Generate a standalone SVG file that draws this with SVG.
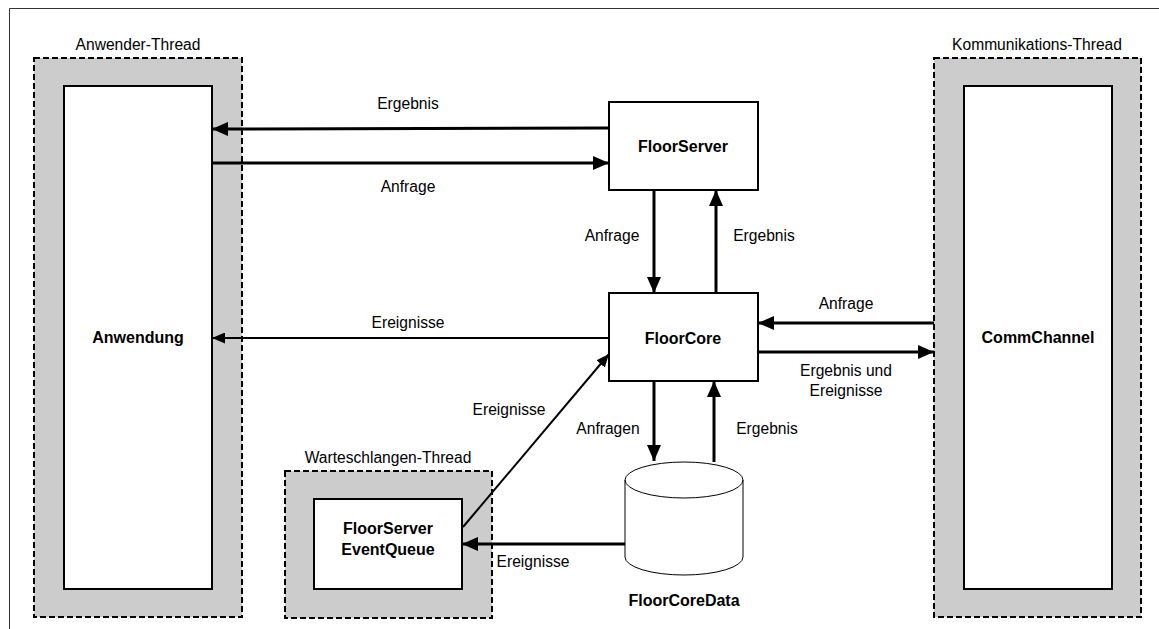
<svg xmlns="http://www.w3.org/2000/svg" width="1159" height="629" viewBox="0 0 1159 629">
  <style>
    .lbl { font-family: "Liberation Sans", Arial, sans-serif; font-size: 15.6px; fill: #000; text-anchor: middle; }
    .name { font-family: "Liberation Sans", Arial, sans-serif; font-size: 16px; font-weight: bold; fill: #000; text-anchor: middle; }
    .thread { fill: #cccccc; stroke: #000; stroke-width: 2; stroke-dasharray: 6 3; }
    .box { fill: #fff; stroke: #000; stroke-width: 2; }
    .thick { fill: none; stroke: #000; stroke-width: 3; marker-end: url(#headBig); }
    .thin { fill: none; stroke: #000; stroke-width: 2; marker-end: url(#headSmall); }
  </style>
  <defs>
    <marker id="headBig" markerUnits="userSpaceOnUse" markerWidth="16" markerHeight="14" refX="16" refY="7" orient="auto">
      <path d="M0,0 L16,7 L0,14 Z" fill="#000"/>
    </marker>
    <marker id="headSmall" markerUnits="userSpaceOnUse" markerWidth="13" markerHeight="11" refX="13" refY="5.5" orient="auto">
      <path d="M0,0 L13,5.5 L0,11 Z" fill="#000"/>
    </marker>
  </defs>

  <rect x="0" y="0" width="1159" height="629" fill="#fff"/>
  <!-- page frame -->
  <path d="M9.5,629 L9.5,8.5 L1159,8.5" fill="none" stroke="#333" stroke-width="1"/>

  <!-- thread containers -->
  <g id="anwender-thread">
    <rect class="thread" x="34" y="58" width="208" height="559"/>
    <text class="lbl" x="138" y="50">Anwender-Thread</text>
  </g>
  <g id="kommunikations-thread">
    <rect class="thread" x="934" y="58" width="207" height="559"/>
    <text class="lbl" x="1037" y="50">Kommunikations-Thread</text>
  </g>
  <g id="warteschlangen-thread">
    <rect class="thread" x="285" y="471" width="207" height="147"/>
    <text class="lbl" x="388" y="463">Warteschlangen-Thread</text>
  </g>

  <!-- nodes -->
  <g id="anwendung">
    <rect class="box" x="64" y="86" width="148" height="503"/>
    <text class="name" x="138" y="343">Anwendung</text>
  </g>
  <g id="commchannel">
    <rect class="box" x="964" y="86" width="148" height="503"/>
    <text class="name" x="1038" y="343">CommChannel</text>
  </g>
  <g id="floorserver">
    <rect class="box" x="609" y="102" width="149" height="88"/>
    <text class="name" x="683" y="152">FloorServer</text>
  </g>
  <g id="floorcore">
    <rect class="box" x="609" y="293" width="149" height="88"/>
    <text class="name" x="683" y="344">FloorCore</text>
  </g>
  <g id="eventqueue">
    <rect class="box" x="314" y="499" width="148" height="90"/>
    <text class="name" x="388" y="534">FloorServer</text>
    <text class="name" x="388" y="555">EventQueue</text>
  </g>
  <g id="floorcoredata">
    <path d="M625,480 L625,557 A59,18 0 0 0 743,557 L743,480 A59,18 0 0 0 625,480 Z" fill="#fff" stroke="#000" stroke-width="1"/>
    <path d="M625,480 A59,18 0 0 0 743,480" fill="none" stroke="#000" stroke-width="1"/>
    <text class="name" x="684" y="606">FloorCoreData</text>
  </g>

  <!-- connectors -->
  <g id="connectors">
    <path class="thick" d="M609,128 L212,129"/>
    <path class="thick" d="M212,163 L609,163"/>
    <path class="thick" d="M654,190 L654,293"/>
    <path class="thick" d="M716,293 L716,190"/>
    <path class="thin" d="M609,338 L212,338"/>
    <path class="thick" d="M934,323 L758,323"/>
    <path class="thick" d="M758,352 L934,352"/>
    <path class="thick" d="M654,381 L654,461"/>
    <path class="thick" d="M714,462 L714,381"/>
    <path class="thin" d="M463,527 L609,354"/>
    <path class="thick" d="M625,544 L462,544"/>
  </g>

  <!-- connector labels -->
  <g id="connector-labels">
    <text class="lbl" x="408" y="109">Ergebnis</text>
    <text class="lbl" x="408" y="192">Anfrage</text>
    <text class="lbl" x="612" y="241">Anfrage</text>
    <text class="lbl" x="764" y="241">Ergebnis</text>
    <text class="lbl" x="408" y="328">Ereignisse</text>
    <text class="lbl" x="846" y="309">Anfrage</text>
    <text class="lbl" x="846" y="376">Ergebnis und</text>
    <text class="lbl" x="846" y="396">Ereignisse</text>
    <text class="lbl" x="509" y="415">Ereignisse</text>
    <text class="lbl" x="608" y="434">Anfragen</text>
    <text class="lbl" x="767" y="434">Ergebnis</text>
    <text class="lbl" x="533" y="567">Ereignisse</text>
  </g>
</svg>
